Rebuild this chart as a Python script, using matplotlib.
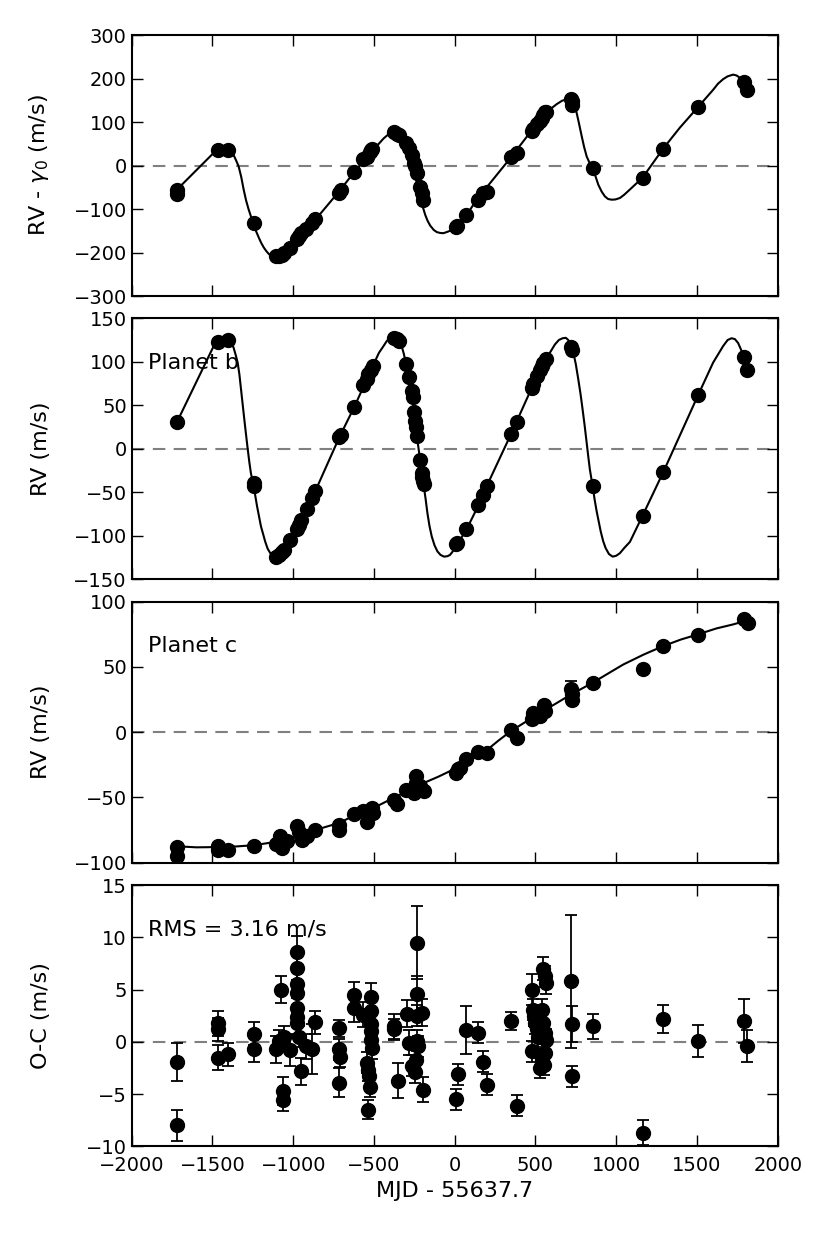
import numpy as np
import matplotlib
matplotlib.use('Agg')
import matplotlib.pyplot as plt

plt.rcParams.update({'font.size': 14, 'font.family': 'DejaVu Sans'})

# ---- panel 1: total RV ----
t_tot = [-1719, -1719, -1468, -1404, -1245, -1107, -1090, -1070, -1055, -1018,
         -977, -967, -950, -921, -884, -864, -715, -705, -622, -565, -544, -527,
         -517, -513, -379, -358, -348, -301, -286, -266, -251, -245, -235, -214,
         -204, -197, 9, 13, 70, 143, 178, 198, 349, 384, 477, 487, 508, 528, 539,
         549, 559, 565, 720, 724, 728, 854, 1163, 1291, 1504, 1790, 1811]
rv_tot = [-56, -65, 35, 35, -131, -209, -207, -205, -200, -190,
          -168, -163, -155, -145, -132, -124, -62, -57, -15, 14, 20, 30,
          35, 38, 76, 72, 70, 52, 40, 24, 5, -2, -18, -50,
          -62, -80, -142, -140, -113, -80, -63, -60, 20, 28, 80, 85, 95, 103, 110,
          116, 122, 124, 152, 148, 138, -5, -28, 39, 135, 192, 174]
t_tot_model = [-1719, -1482, -1460, -1430, -1404, -1385, -1369, -1354, -1338, -1322,
               -1307, -1292, -1276, -1260, -1245, -1230, -1214, -1198, -1183, -1168,
               -1152, -1130, -1107, -1085, -1060, -1040, -1018, -967, -864, -715,
               -622, -513, -470, -441, -410, -389, -370, -358, -340, -317, -301,
               -286, -272, -259, -247, -235, -222, -210, -196, -183, -168, -152,
               -130, -111, -90, -70, -50, -29, -8, 13, 75, 137, 353, 477, 559,
               600, 631, 665, 693, 710, 724, 740, 755, 770, 786, 801, 817, 835,
               854, 872, 889, 910, 930, 950, 972, 995, 1023, 1050, 1085, 1163,
               1291, 1394, 1508, 1600, 1630, 1662, 1690, 1724, 1745, 1765, 1790, 1813]
rv_tot_model = [-55, 33, 37, 38, 35, 31, 24, 12, -2, -26,
                -55, -80, -101, -119, -134, -151, -165, -178, -188, -196,
                -203, -209, -211, -209, -205, -198, -190, -165, -125, -59,
                -15, 33, 50, 62, 72, 77, 77, 74, 68, 60, 51,
                41, 26, 6, -17, -40, -61, -78, -97, -113, -127, -138,
                -148, -153, -155, -155.5, -153, -150, -145, -138, -113, -78, 21, 81, 118,
                132, 141, 149, 152, 152, 150, 140, 121, 96, 68, 43, 21, 6,
                -5, -25, -44, -60, -71, -77, -78.5, -78, -74.6, -67, -55, -28,
                39, 87, 135, 174, 188, 198.5, 205, 209, 207, 202, 192, 174]

# ---- panel 2: planet b ----
t_b = [-1719, -1468, -1404, -1245, -1240, -1107, -1090, -1070, -1055, -1018,
       -977, -967, -952, -915, -884, -864, -715, -705, -622, -565, -544, -534,
       -517, -507, -379, -358, -348, -301, -286, -266, -259, -251, -245, -239,
       -235, -214, -204, -202, -197, -193, 9, 13, 70, 143, 174, 198, 349, 384,
       477, 487, 508, 528, 539, 549, 565, 720, 728, 854, 1163, 1291, 1504, 1790, 1811]
rv_b = [31, 123, 125, -43, -39, -124, -122, -119, -116, -105,
        -92, -88, -82, -69, -57, -49, 13, 16, 48, 73, 80, 86,
        91, 95, 127, 126, 124, 97, 82, 66, 59, 42, 32, 25,
        15, -13, -28, -32, -37, -41, -110, -108, -92, -65, -53, -43, 17, 31,
        70, 74, 84, 90, 95, 98, 103, 117, 114, -43, -77, -27, 62, 105, 90]
t_b_model = [-1719, -1482, -1460, -1441, -1420, -1404, -1385, -1369, -1355, -1344,
             -1333, -1323, -1313, -1303, -1292, -1282, -1272, -1262, -1245, -1224,
             -1200, -1173, -1158, -1142, -1125, -1107, -1090, -1070, -1018, -915,
             -864, -715, -622, -507, -470, -441, -420, -400, -380, -358, -340,
             -327, -315, -301, -280, -259, -247, -235, -214, -193, -180, -169,
             -156, -142, -125, -107, -88, -66, -45, -29, -8, 13, 75, 147, 198,
             349, 477, 565, 621, 645, 668, 688, 703, 720, 734, 750, 765, 779,
             792, 805, 817, 827, 837, 854, 866, 879, 892, 904, 919, 934, 955,
             978, 1000, 1023, 1050, 1085, 1163, 1291, 1508, 1600, 1662, 1690,
             1714, 1735, 1755, 1775, 1790, 1813]
rv_b_model = [31, 122, 126, 127.5, 128, 127, 123, 116, 107, 99,
              85, 68, 51, 34, 16, 0, -15, -28, -43, -66,
              -89, -107, -115, -120, -123.5, -125, -123.5, -120, -105, -69,
              -49, 13, 48, 95, 110, 118, 124, 127, 128, 127, 122,
              117, 109, 97, 80, 59, 37, 15, -13, -41, -58, -74,
              -89, -101, -111, -118, -122, -124, -123.5, -122, -117, -111, -92, -65, -43,
              17, 70, 103, 120, 125, 127, 127.5, 125, 118, 111, 97, 80, 63,
              45, 26, 7, -9, -24, -43, -58, -72, -84, -95, -106, -114, -121,
              -124, -123, -120, -114, -107, -77, -27, 62, 99, 118, 125,
              127, 126, 121.5, 113, 105, 90]

# ---- panel 3: planet c ----
t_c = [-1719, -1719, -1468, -1468, -1404, -1245, -1107, -1080, -1070, -1039,
       -977, -967, -946, -915, -864, -719, -715, -622, -565, -544, -540, -513,
       -507, -379, -358, -301, -266, -251, -239, -239, -214, -193, 9, 23, 33,
       70, 147, 198, 347, 384, 477, 487, 508, 528, 553, 559, 720, 724, 724,
       854, 1163, 1291, 1504, 1790, 1817]
rv_c = [-88, -94.5, -87.4, -90, -90.4, -86.9, -85.6, -79.7, -88.7, -83.5,
        -72, -76.6, -82.3, -79.2, -75.1, -70.8, -75.1, -62.3, -60.5, -69, -64.4, -58,
        -61.8, -51.6, -54.7, -44.4, -43.9, -46.5, -33.7, -38.8, -40.9, -45.2, -31.1, -28.1, -27.3,
        -20.4, -15.3, -16.3, 1.6, -4.6, 10.3, 14.9, 12.3, 12.8, 20.5, 16.1, 32.8, 28.9, 24.6,
        37.9, 48.1, 66, 74.2, 86.4, 83.9]
err_c = [1.5] * len(t_c)
err_c[t_c.index(720)] = 6.4
t_c_model = [-1719, -1600, -1468, -1350, -1245, -1080, -950, -864, -800, -715,
             -650, -565, -470, -379, -300, -214, -100, 13, 100, 198, 270, 347,
             440, 528, 620, 720, 854, 950, 1044, 1170, 1291, 1400, 1504, 1620,
             1724, 1817]
rv_c_model = [-87.4, -88.2, -88, -87.5, -86.6, -83.5, -79.5, -75, -72.6, -69.5,
              -65.5, -61.8, -56, -50.3, -45.5, -40.1, -34, -27.3, -21, -13.8, -6.5, 0.8,
              8, 14.9, 21.5, 28.9, 37.9, 45, 51.9, 59.5, 66, 71, 74.9, 79.5,
              82.6, 85.9]

# ---- panel 4: residuals ----
t_res = [-1719, -1719, -1468, -1468, -1468, -1404, -1245, -1245, -1107, -1090,
         -1076, -1066, -1066, -1055, -1018, -977, -977, -977, -977, -977,
         -977, -977, -967, -950, -921, -884, -864, -715, -715, -709,
         -715, -626, -626, -565, -517, -517, -517, -517, -517, -510,
         -544, -540, -530, -527, -540, -379, -379, -354, -297, -286,
         -266, -235, -235, -232, -235, -245, -240, -228, -204, -197,
         9, 23, 70, 143, 178, 198, 349, 384, 477, 487,
         490, 497, 508, 518, 477, 539, 549, 559, 559, 539,
         528, 553, 565, 549, 559, 565, 720, 724, 728, 858,
         1163, 1291, 1504, 1790, 1811]
res = [-1.9, -8.0, 1.8, 1.2, -1.5, -1.2, 0.8, -0.7, -0.7, 0.1,
       5.0, -4.7, -5.6, 0.5, -0.8, 8.6, 7.1, 5.5, 4.7, 3.2,
       2.4, 1.8, 0.5, -2.8, -0.4, -0.7, 1.9, 1.3, -0.7, -1.4,
       -3.9, 4.5, 3.2, 2.6, 4.3, 3.0, 1.7, 1.0, 0.2, -0.6,
       -2.0, -2.7, -3.3, -4.3, -6.5, 1.5, 1.2, -3.7, 2.7, -0.1,
       -2.3, 9.5, 4.6, 2.5, 0.1, -2.9, -1.7, -0.4, 2.8, -4.6,
       -5.5, -3.1, 1.1, 0.9, -1.9, -4.1, 2.0, -6.1, 5.0, 3.1,
       2.5, 1.8, 1.2, 0.5, -0.9, 3.1, 1.8, 0.9, -1.1, -1.7,
       -2.5, -2.2, 0.2, 7.0, 6.3, 5.6, 5.8, 1.7, -3.3, 1.5,
       -8.7, 2.2, 0.1, 2.0, -0.4]
err_res = [1.8, 1.5, 1.2, 1.1, 1.2, 1.1, 1.1, 1.2, 1.3, 1.0,
           1.3, 1.3, 1.0, 1.0, 1.5, 1.5, 1.2, 1.2, 1.2, 1.0,
           1.0, 1.0, 1.0, 1.3, 1.2, 2.4, 1.1, 0.8, 1.0, 1.0,
           1.4, 1.2, 1.3, 1.2, 1.3, 1.0, 1.0, 1.0, 1.0, 1.0,
           1.0, 1.0, 1.0, 1.0, 0.9, 1.2, 1.0, 1.7, 1.3, 1.2,
           1.0, 3.5, 1.7, 1.0, 1.0, 1.0, 1.0, 1.0, 1.3, 1.2,
           1.0, 1.0, 2.3, 1.0, 1.0, 1.0, 0.9, 1.0, 1.5, 1.0,
           1.0, 1.0, 1.0, 1.0, 1.0, 1.0, 1.0, 1.0, 1.0, 1.0,
           1.0, 1.0, 1.0, 1.1, 1.0, 1.0, 6.4, 1.7, 1.0, 1.2,
           1.2, 1.35, 1.5, 2.1, 1.5]

fig = plt.figure(figsize=(8.3, 12.33), dpi=100)
left, width, height = 0.1587, 0.7783, 0.2117
bottoms = [0.7599, 0.5302, 0.3003, 0.0703]
axs = [fig.add_axes([left, b, width, height]) for b in bottoms]

mk = dict(fmt='o', color='k', ms=10, elinewidth=1.3, capsize=4, capthick=1.3, zorder=3)

ax = axs[0]
ax.plot(t_tot_model, rv_tot_model, 'k-', lw=1.5, zorder=2)
ax.plot(t_tot, rv_tot, 'ko', ms=10, zorder=3)
ax.set_ylim(-300, 300)
ax.set_yticks(np.arange(-300, 301, 100))
ax.set_ylabel(r'RV - $\gamma_0$ (m/s)')

ax = axs[1]
ax.plot(t_b_model, rv_b_model, 'k-', lw=1.5, zorder=2)
ax.plot(t_b, rv_b, 'ko', ms=10, zorder=3)
ax.set_ylim(-150, 150)
ax.set_yticks(np.arange(-150, 151, 50))
ax.set_ylabel('RV (m/s)')
ax.text(0.025, 0.83, 'Planet b', transform=ax.transAxes, ha='left', va='center', fontsize=16)

ax = axs[2]
ax.plot(t_c_model, rv_c_model, 'k-', lw=1.5, zorder=2)
ax.errorbar(t_c, rv_c, yerr=err_c, **mk)
ax.set_ylim(-100, 100)
ax.set_yticks(np.arange(-100, 101, 50))
ax.set_ylabel('RV (m/s)')
ax.text(0.025, 0.83, 'Planet c', transform=ax.transAxes, ha='left', va='center', fontsize=16)

ax = axs[3]
ax.errorbar(t_res, res, yerr=err_res, **mk)
ax.set_ylim(-10, 15)
ax.set_yticks(np.arange(-10, 16, 5))
ax.set_ylabel('O-C (m/s)')
ax.set_xlabel('MJD - 55637.7', fontsize=16)
ax.text(0.025, 0.83, 'RMS = 3.16 m/s', transform=ax.transAxes, ha='left', va='center', fontsize=16)

for i, ax in enumerate(axs):
    ax.axhline(0, color='0.5', ls='--', dashes=(6, 4), lw=1.5, zorder=1)
    ax.set_xlim(-2000, 2000)
    ax.set_xticks(np.arange(-2000, 2001, 500))
    ax.tick_params(direction='in', top=True, right=True, length=8, width=1, labelsize=14)
    ax.tick_params(axis='x', pad=7)
    ax.yaxis.label.set_fontsize(16)
    for s in ax.spines.values():
        s.set_linewidth(1.5)
    if i < 3:
        ax.tick_params(labelbottom=False)
    ax.yaxis.set_label_coords(-0.125, 0.5)

fig.savefig('out.png', dpi=100, facecolor='white')
